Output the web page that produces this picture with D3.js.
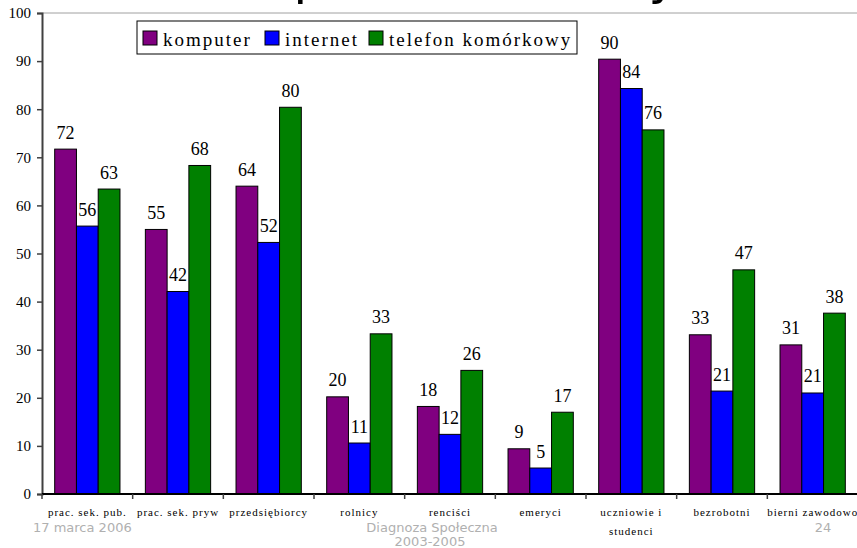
<!DOCTYPE html>
<html>
<head>
<meta charset="utf-8" />
<title>komputer, internet, telefon</title>
<style>
body { margin: 0; background: #fff; }
svg { display: block; }
.foot { font-family: "DejaVu Sans", Verdana, sans-serif; fill: #b0b0b0; font-size: 13px; }
</style>
</head>
<body>
<script src="https://d3js.org/d3.v7.min.js"></script>
<script>
var width = 857,
    height = 548;
var SERIF = "'Liberation Serif', 'Times New Roman', serif";

// data
var categories = ["prac. sek. pub.", "prac. sek. pryw", "przedsiębiorcy", "rolnicy", "renciści",
                  "emeryci", "uczniowie i\nstudenci", "bezrobotni", "bierni zawodowo"];
var series = ["komputer", "internet", "telefon komórkowy"];
var komputer = [71.7, 55.0, 64.0, 20.2, 18.2, 9.4, 90.4, 33.1, 31.0];
var internet = [55.7, 42.1, 52.3, 10.6, 12.4, 5.4, 84.3, 21.4, 21.0];
var telefon  = [63.4, 68.3, 80.4, 33.3, 25.7, 17.0, 75.7, 46.6, 37.6];
var yTicks = [0, 10, 20, 30, 40, 50, 60, 70, 80, 90, 100];
var colors = ["#800080", "#0000ff", "#008000"];

var svg = d3.select("body").append("svg")
    .attr("width", width)
    .attr("height", height);

// slide title, cut off by the top edge (only descenders show, as in the slide)
svg.append("text")
    .attr("x", 184).attr("y", -6)
    .style("font-family", "DejaVu Sans, sans-serif")
    .style("font-size", "50px")
    .text("Komputer i telefony");

var x0 = d3.scaleBand()
    .domain(categories)
    .range([42, 858])
    .paddingInner(0.28)
    .paddingOuter(0.14);

var x1 = d3.scaleBand()
    .domain(series)
    .range([0, x0.bandwidth()]);

var y = d3.scaleLinear()
    .domain([0, 100])
    .range([494, 13]);

var color = d3.scaleOrdinal().domain(series).range(colors);

var rows = categories.map(function(c, i) {
  return {cat: c, vals: [komputer[i], internet[i], telefon[i]].map(function(v, j){ return {s: series[j], v: v}; })};
});

// top border of plot area
svg.append("line")
    .attr("x1", 42).attr("x2", width)
    .attr("y1", y(100)).attr("y2", y(100))
    .style("stroke", "#a0a0a0").style("stroke-width", 1);

// bars
var groups = svg.selectAll(".grp")
    .data(rows)
    .enter().append("g")
    .attr("class", "grp")
    .attr("transform", function(d){ return "translate(" + x0(d.cat) + ",0)"; });

groups.selectAll("rect")
    .data(function(d){ return d.vals; })
    .enter().append("rect")
    .attr("x", function(d){ return x1(d.s); })
    .attr("y", function(d){ return y(d.v); })
    .attr("width", x1.bandwidth())
    .attr("height", function(d){ return y(0) - y(d.v); })
    .style("fill", function(d){ return color(d.s); })
    .style("stroke", "#000")
    .style("stroke-width", 1);

groups.selectAll(".val")
    .data(function(d){ return d.vals; })
    .enter().append("text")
    .attr("x", function(d){ return x1(d.s) + x1.bandwidth() / 2; })
    .attr("y", function(d){ return y(d.v) - 10.5; })
    .attr("text-anchor", "middle")
    .style("font-family", SERIF)
    .style("font-size", "18px")
    .text(function(d){ return d3.format(".0f")(d.v); });

// y axis
var yAxis = svg.append("g")
    .attr("transform", "translate(42,0)")
    .call(d3.axisLeft(y).tickValues(yTicks).tickSize(5).tickPadding(6));
yAxis.select(".domain").style("stroke", "#404040").style("stroke-width", 2);
yAxis.selectAll(".tick line").style("stroke", "#404040").style("stroke-width", 1.5);
yAxis.selectAll(".tick text")
    .style("font-family", SERIF)
    .style("font-size", "15px")
    .style("fill", "#000");

// x axis
var half = (x0.step() - x0.bandwidth()) / 2;
var bounds = categories.map(function(c){ return x0(c) - half; });

svg.append("line")
    .attr("x1", 42).attr("x2", width)
    .attr("y1", y(0)).attr("y2", y(0))
    .style("stroke", "#000").style("stroke-width", 2);

svg.selectAll(".xtick")
    .data(bounds)
    .enter().append("line")
    .attr("x1", function(d){ return d; }).attr("x2", function(d){ return d; })
    .attr("y1", y(0)).attr("y2", y(0) + 5)
    .style("stroke", "#404040").style("stroke-width", 1.5);

svg.selectAll(".xlab")
    .data(categories)
    .enter().append("text")
    .attr("text-anchor", "middle")
    .style("font-family", SERIF)
    .style("font-size", "11px")
    .style("letter-spacing", "1px")
    .each(function(d){
      var t = d3.select(this);
      d.split("\n").forEach(function(line, i){
        t.append("tspan")
          .attr("x", x0(d) + x0.bandwidth() / 2)
          .attr("y", 516 + i * 19)
          .text(line);
      });
    });

// legend
var legend = svg.append("g").attr("transform", "translate(137,21)");
legend.append("rect")
    .attr("width", 440).attr("height", 33)
    .style("fill", "#fff").style("stroke", "#000").style("stroke-width", 1);

var legX = [6, 128, 232];
var items = legend.selectAll(".li")
    .data(series)
    .enter().append("g")
    .attr("transform", function(d, i){ return "translate(" + legX[i] + ",0)"; });
items.append("rect")
    .attr("y", 10).attr("width", 14).attr("height", 14)
    .style("fill", function(d){ return color(d); })
    .style("stroke", "#000").style("stroke-width", 1);
items.append("text")
    .attr("x", 20).attr("y", 25)
    .style("font-family", SERIF)
    .style("font-size", "19px")
    .style("letter-spacing", "2px")
    .text(function(d){ return d; });

// slide footer
svg.append("text").attr("class", "foot").attr("x", 33).attr("y", 532).text("17 marca 2006");
svg.append("text").attr("class", "foot").attr("x", 432).attr("y", 532).attr("text-anchor", "middle").text("Diagnoza Społeczna");
svg.append("text").attr("class", "foot").attr("x", 430).attr("y", 546).attr("text-anchor", "middle").text("2003-2005");
svg.append("text").attr("class", "foot").attr("x", 823).attr("y", 532).attr("text-anchor", "middle").text("24");
</script>
</body>
</html>
